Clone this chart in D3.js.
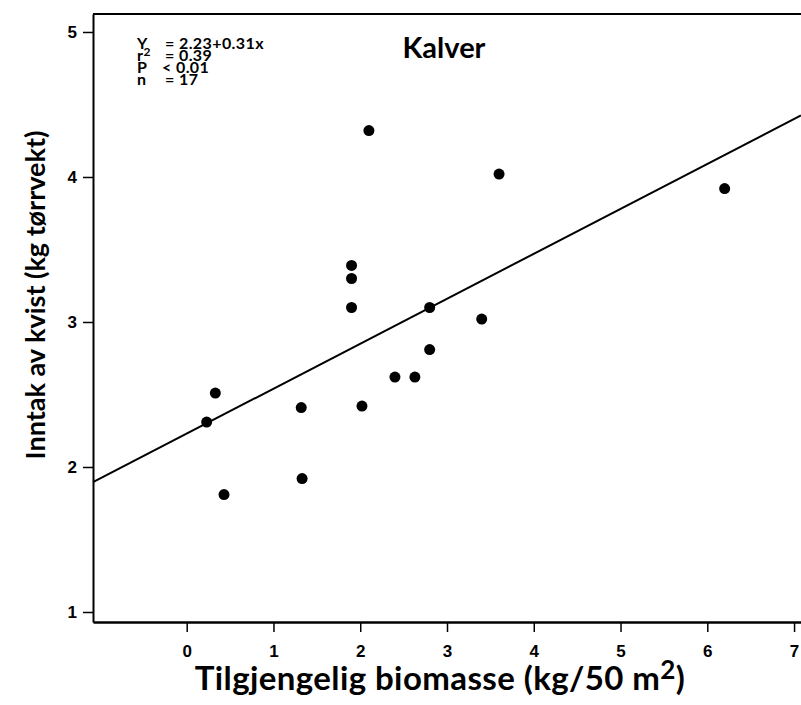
<!DOCTYPE html>
<html>
<head>
<meta charset="utf-8">
<script src="https://cdn.jsdelivr.net/npm/d3@7"></script>
<style>
  body { margin: 0; background: #fff; }
  svg { display: block; font-family: Lato, "Open Sans", sans-serif; }
</style>
</head>
<body>
<div id="chart"></div>
<script>
// biomass (kg/50 m2) and twig intake (kg dry weight) for calves
const biomass = [2.1, 3.6, 1.9, 1.9, 1.9, 2.8, 3.4, 2.8, 2.4, 2.63, 0.33, 1.32, 2.02, 0.23, 1.33, 0.43, 6.2];
const intake  = [4.32, 4.02, 3.39, 3.3, 3.1, 3.1, 3.02, 2.81, 2.62, 2.62, 2.51, 2.41, 2.42, 2.31, 1.92, 1.81, 3.92];
const xTicks = [0, 1, 2, 3, 4, 5, 6, 7];
const yTicks = [1, 2, 3, 4, 5];
const fit = { a: 2.23, b: 0.31 };
const statLabels = ["Y", "r", "P", "n"];
const statValues = ["= 2.23+0.31x", "= 0.39", "< 0.01", "= 17"];

const width = 801, height = 705;
const margins = { top: 14, right: 0, bottom: 83, left: 93 };

const svg = d3.select("#chart").append("svg")
  .attr("width", width)
  .attr("height", height);

const x = d3.scaleLinear().domain([-1.08, 7.08]).range([margins.left, width - margins.right]);
const y = d3.scaleLinear().domain([0.931, 5.124]).range([height - margins.bottom, margins.top]);

// frame top line
svg.append("line")
  .attr("x1", x(-1.08)).attr("x2", x(7.08))
  .attr("y1", y(5.124)).attr("y2", y(5.124))
  .style("stroke", "#000").style("stroke-width", 2);

const xAxis = svg.append("g")
  .attr("transform", "translate(0," + y(0.931) + ")")
  .call(d3.axisBottom(x).tickValues(xTicks).tickSize(10).tickSizeOuter(0).tickPadding(13));
xAxis.select("path").style("stroke-width", 2.5);
xAxis.selectAll("line").style("stroke-width", 1.5);
xAxis.selectAll("text").style("font-size", "17px").style("font-weight", "bold").attr("fill", "#000");

const yAxis = svg.append("g")
  .attr("transform", "translate(" + x(-1.08) + ",0)")
  .call(d3.axisLeft(y).tickValues(yTicks).tickFormat(d3.format("d")).tickSize(10).tickSizeOuter(0).tickPadding(6));
yAxis.select("path").style("stroke-width", 2);
yAxis.selectAll("line").style("stroke-width", 1.5);
yAxis.selectAll("text").style("font-size", "17px").style("font-weight", "bold").attr("fill", "#000");

// regression line
svg.append("line")
  .attr("x1", x(-1.08)).attr("y1", y(fit.a + fit.b * -1.08))
  .attr("x2", x(7.08)).attr("y2", y(fit.a + fit.b * 7.08))
  .style("stroke", "#000").style("stroke-width", 2);

svg.selectAll(".dot").data(biomass)
  .enter().append("circle")
  .attr("class", "dot")
  .attr("cx", d => x(d))
  .attr("cy", (d, i) => y(intake[i]))
  .attr("r", 5.5)
  .style("fill", "#000");

// stats block
const stats = svg.append("g").style("font-size", "16px").style("font-weight", "bold").style("letter-spacing", "0.4px");
statLabels.forEach((s, i) => {
  const t = stats.append("text").attr("x", 137).attr("y", 49 + i * 12).text(s);
  if (s === "r") t.append("tspan").attr("dy", -5).style("font-size", "12px").text("2");
  stats.append("text").attr("x", s === "P" ? 162 : 165).attr("y", 49 + i * 12).text(statValues[i]);
});

svg.append("text")
  .attr("x", 444).attr("y", 58)
  .attr("text-anchor", "middle")
  .style("font-size", "29px").style("font-weight", "bold")
  .text("Kalver");

const xt = svg.append("text")
  .attr("x", 440).attr("y", 690)
  .attr("text-anchor", "middle")
  .style("font-size", "33px").style("font-weight", "bold").style("letter-spacing", "0.4px")
  .text("Tilgjengelig biomasse (kg/50 m");
xt.append("tspan").attr("dy", -11).style("font-size", "26px").text("2");
xt.append("tspan").attr("dy", 11).text(")");

svg.append("text")
  .attr("transform", "translate(45,295) rotate(-90)")
  .attr("text-anchor", "middle")
  .style("font-size", "27px").style("font-weight", "bold")
  .text("Inntak av kvist (kg tørrvekt)");
</script>
</body>
</html>
